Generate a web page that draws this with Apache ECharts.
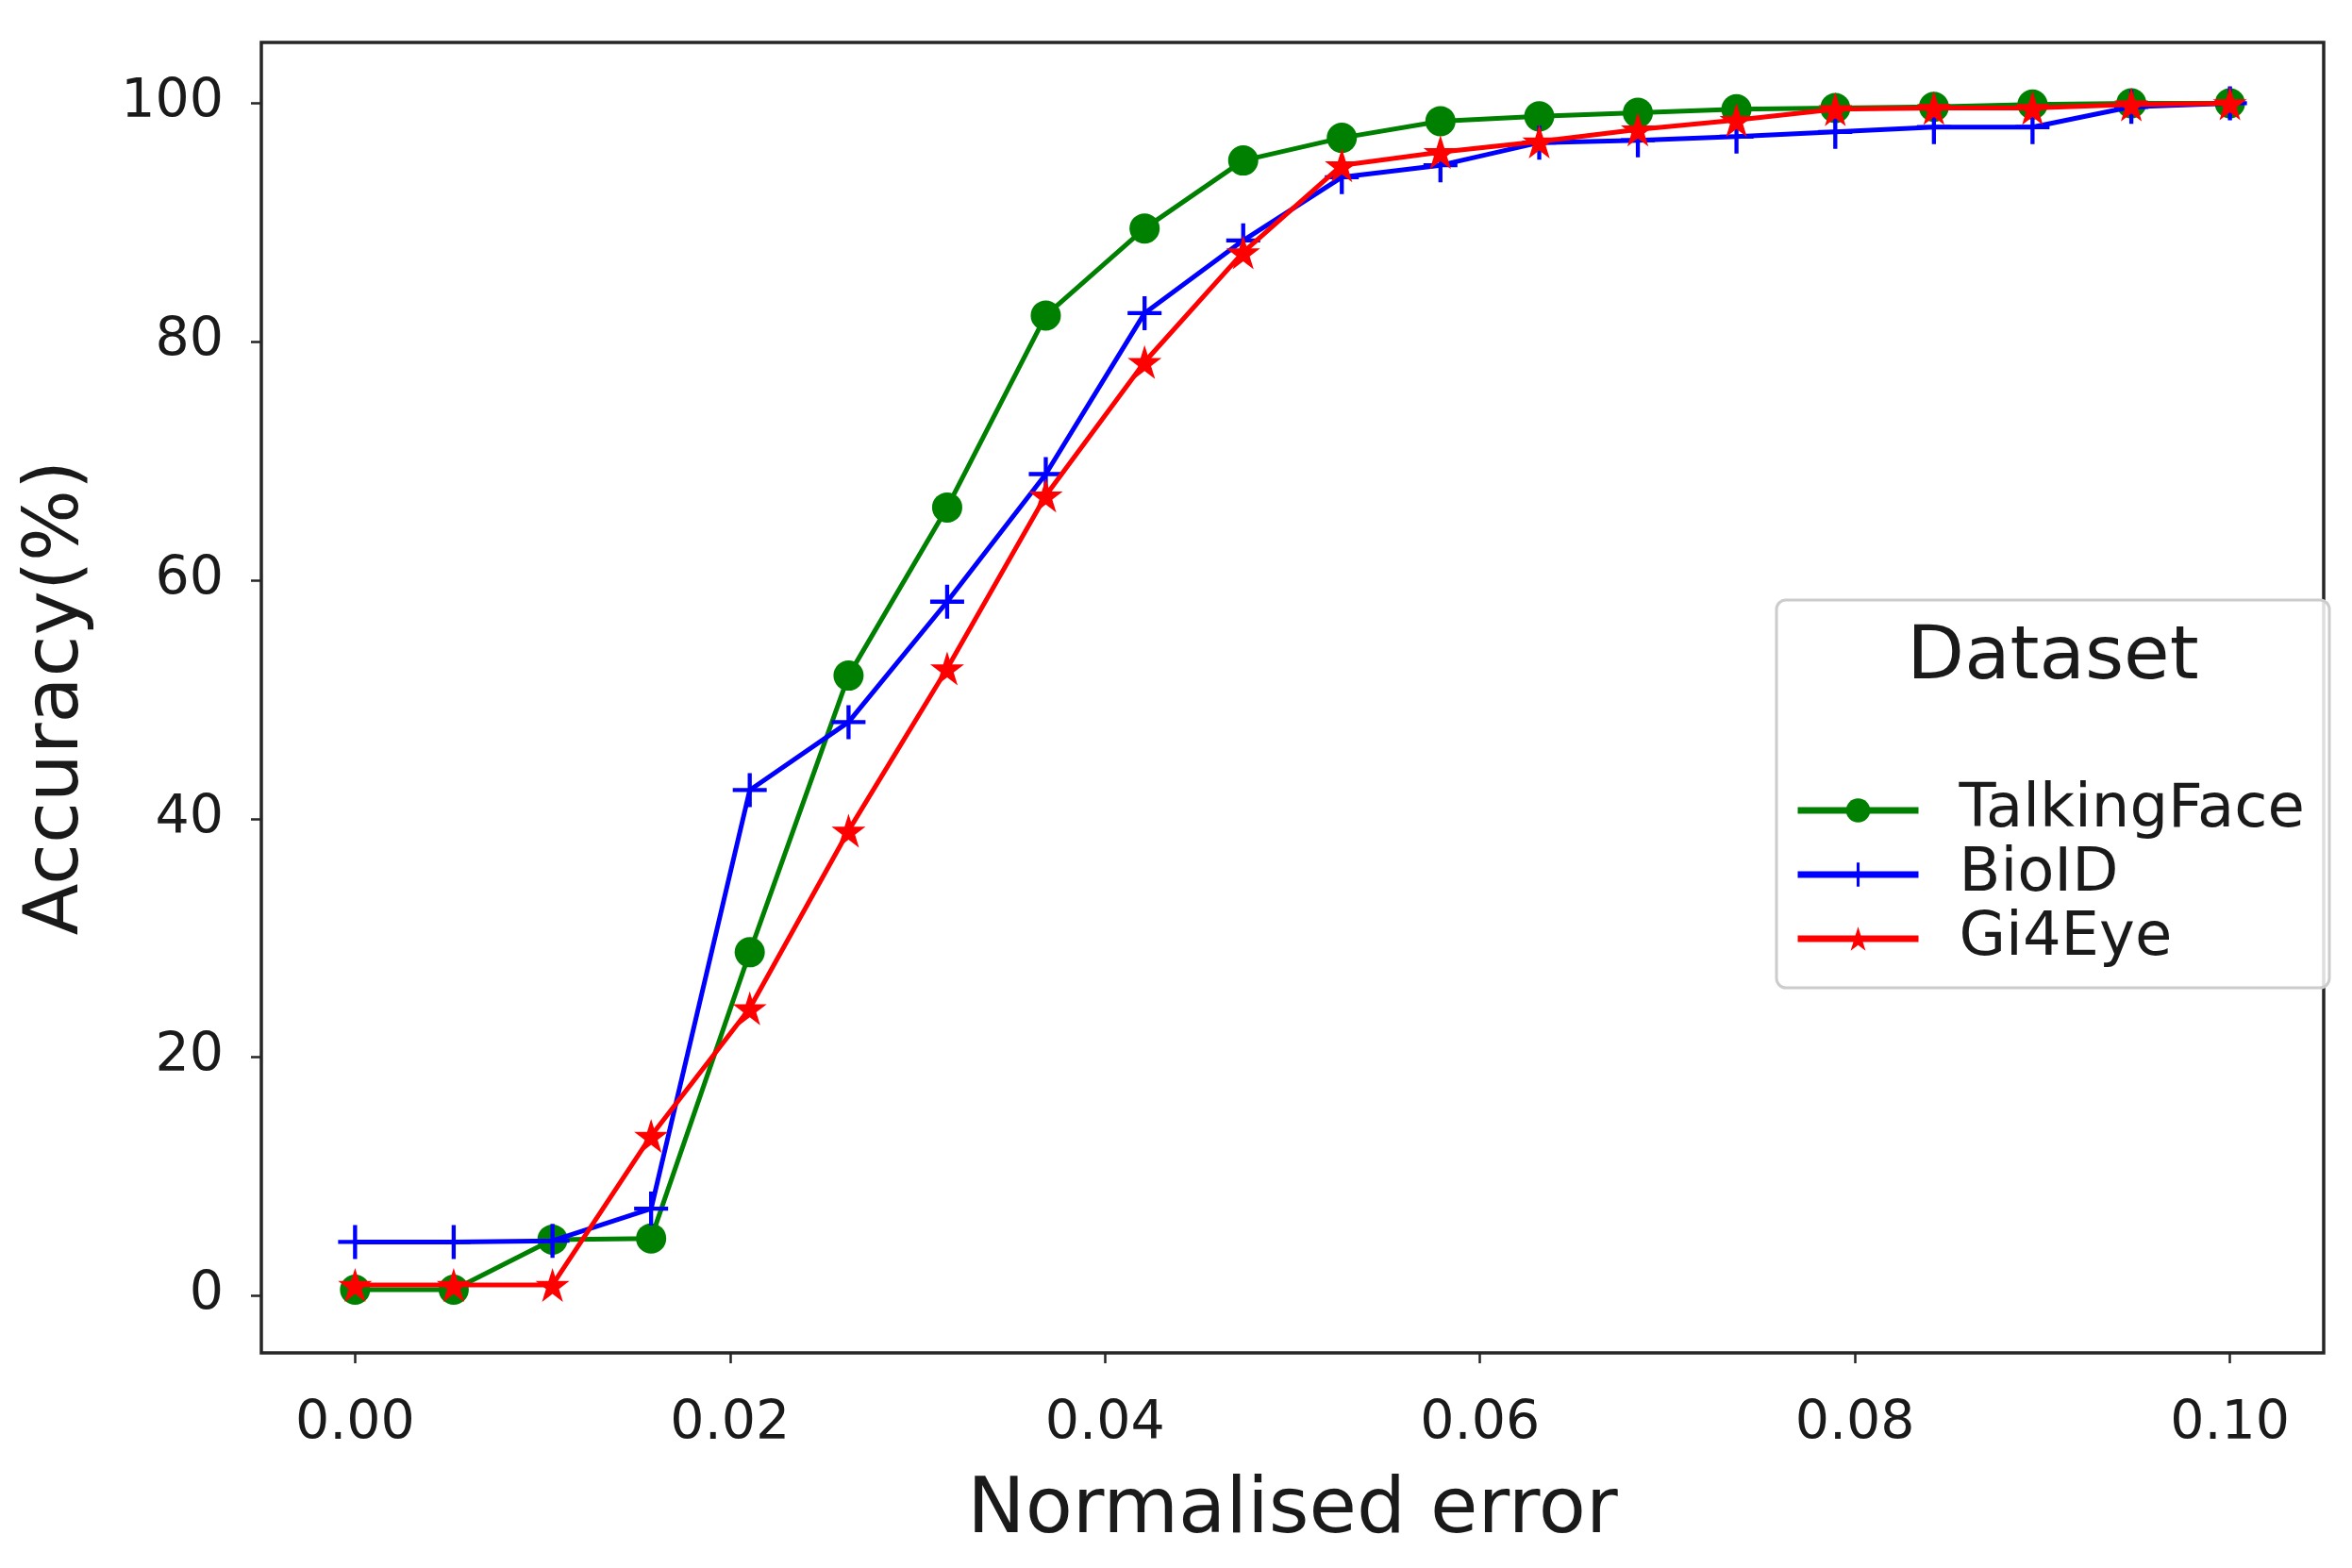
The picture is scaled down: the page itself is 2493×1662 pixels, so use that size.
<!DOCTYPE html>
<html>
<head>
<meta charset="utf-8">
<script src="https://cdn.jsdelivr.net/npm/echarts@6/dist/echarts.min.js"></script>
<style>
html,body{margin:0;padding:0;background:#fff;}
#chart{width:2493px;height:1662px;}
</style>
</head>
<body>
<div id="chart"></div>
<script>
const errors = [0, 0.00526, 0.01053, 0.01579, 0.02105, 0.02632, 0.03158, 0.03684, 0.04211, 0.04737,
                0.05263, 0.05789, 0.06316, 0.06842, 0.07368, 0.07895, 0.08421, 0.08947, 0.09474, 0.1];
const talkingFace = [0.5, 0.5, 4.7, 4.8, 28.8, 52.0, 66.1, 82.2, 89.5, 95.2,
                     97.1, 98.5, 98.9, 99.2, 99.5, 99.6, 99.7, 99.9, 100, 100];
const bioID = [4.5, 4.5, 4.6, 7.3, 42.4, 48.1, 58.2, 68.9, 82.4, 88.5,
               93.8, 94.8, 96.7, 96.9, 97.2, 97.6, 98.0, 98.0, 99.7, 100];
const gi4Eye = [0.9, 0.9, 0.9, 13.4, 24.1, 39.0, 52.6, 67.1, 78.3, 87.5,
                94.8, 95.9, 96.8, 97.8, 98.6, 99.5, 99.6, 99.6, 99.9, 100];
const xTicks = [0, 0.02, 0.04, 0.06, 0.08, 0.1];
const yTicks = [0, 20, 40, 60, 80, 100];
const seriesNames = ['TalkingFace', 'BioID', 'Gi4Eye'];
const legendTitle = 'Dataset';
const xLabel = 'Normalised error';
const yLabel = 'Accuracy(%)';

const FONT = 'DejaVu Sans';
const starPath = 'path://M0,-1 L0.2245,-0.309 L0.9511,-0.309 L0.3633,0.118 L0.5878,0.809 L0,0.382 L-0.5878,0.809 L-0.3633,0.118 L-0.9511,-0.309 L-0.2245,-0.309 Z';
const plusPath = 'path://M-1,-0.12 L-0.12,-0.12 L-0.12,-1 L0.12,-1 L0.12,-0.12 L1,-0.12 L1,0.12 L0.12,0.12 L0.12,1 L-0.12,1 L-0.12,0.12 L-1,0.12 Z';

function pairs(ys){ return errors.map((x,i)=>[x, ys[i]]); }

const chart = echarts.init(document.getElementById('chart'), null, {renderer:'canvas'});
const option = {
  backgroundColor: '#ffffff',
  animation: false,
  grid: {left: 277, right: 30, top: 45, bottom: 228, show: true, borderColor: '#262626', borderWidth: 3.5, backgroundColor: 'transparent', z: 0},
  xAxis: {
    type: 'value', min: -0.005, max: 0.105,
    splitLine: {show: false},
    axisLine: {show: false, onZero: false},
    axisTick: {show: true, length: 11, lineStyle: {color: '#262626', width: 2.5}, customValues: xTicks},
    axisLabel: {customValues: xTicks, formatter: v => v.toFixed(2), fontFamily: FONT, fontSize: 57, color: '#1a1a1a', margin: 48},
    name: xLabel, nameLocation: 'middle', nameGap: 128,
    nameTextStyle: {fontFamily: FONT, fontSize: 82, color: '#1a1a1a'}
  },
  yAxis: {
    type: 'value', min: -4.8, max: 105.1,
    splitLine: {show: false},
    axisLine: {show: false, onZero: false},
    axisTick: {show: true, length: 11, lineStyle: {color: '#262626', width: 2.5}, customValues: yTicks},
    axisLabel: {customValues: yTicks, formatter: v => String(Math.round(v)), fontFamily: FONT, fontSize: 57, color: '#1a1a1a', margin: 40},
    name: yLabel, nameLocation: 'middle', nameGap: 176, nameRotate: 90,
    nameTextStyle: {fontFamily: FONT, fontSize: 80, color: '#1a1a1a'}
  },
  legend: {
    orient: 'vertical', left: 1897, top: 822, z: 20,
    itemWidth: 128, itemHeight: 32, itemGap: 4,
    lineStyle: {width: 7},
    textStyle: {fontFamily: FONT, fontSize: 64, color: '#1a1a1a', lineHeight: 62, padding: [0,0,0,38]},
    data: seriesNames
  },
  graphic: [
    {type: 'rect', z: 15, shape: {x: 1883, y: 636, width: 586, height: 411, r: 10},
     style: {fill: 'rgba(255,255,255,0.85)', stroke: '#cccccc', lineWidth: 3}},
    {type: 'text', z: 16, x: 2176, y: 698,
     style: {text: legendTitle, font: '79px "DejaVu Sans"', fill: '#1a1a1a', textAlign: 'center', textVerticalAlign: 'middle'}}
  ],
  series: [
    {name: seriesNames[0], type: 'line', data: pairs(talkingFace), color: '#008000',
     symbol: 'circle', symbolSize: 32, lineStyle: {width: 5, color: '#008000'}, itemStyle: {color: '#008000'}, z: 3},
    {name: seriesNames[1], type: 'line', data: pairs(bioID), color: '#0000ff',
     symbol: plusPath, symbolSize: 36, lineStyle: {width: 5, color: '#0000ff'}, itemStyle: {color: '#0000ff'}, z: 4},
    {name: seriesNames[2], type: 'line', data: pairs(gi4Eye), color: '#ff0000',
     symbol: starPath, symbolSize: 36, lineStyle: {width: 5, color: '#ff0000'}, itemStyle: {color: '#ff0000'}, z: 5}
  ]
};
chart.setOption(option);
</script>
</body>
</html>
